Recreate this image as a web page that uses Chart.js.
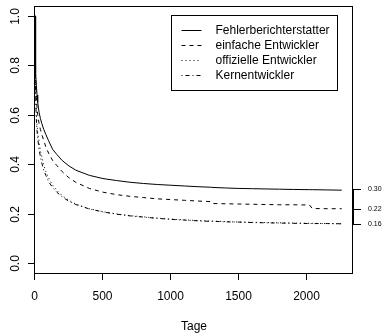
<!DOCTYPE html>
<html>
<head>
<meta charset="utf-8">
<script src="https://cdn.jsdelivr.net/npm/chart.js@4.4.0/dist/chart.umd.min.js"></script>
<style>
  body { margin: 0; background: #fff; }
  canvas { display: block; }
</style>
</head>
<body>
<canvas id="survChart" width="389" height="333"></canvas>
<script>
// Tage (gemeinsames Raster fuer alle Kurven)
const tage = [0, 3, 6, 10, 15, 20, 30, 40, 50, 65, 80, 100, 130, 160, 200, 250, 300, 400, 500, 600,
              700, 800, 900, 1000, 1100, 1200, 1290, 1310, 1400, 1500, 1600, 1700, 1800, 1900, 2020, 2040, 2150, 2257];

const fehlerberichterstatter = [1.0, 0.84, 0.77, 0.72, 0.68, 0.65, 0.61, 0.585, 0.565, 0.54, 0.52, 0.495, 0.46, 0.44, 0.415, 0.393, 0.376, 0.355, 0.342, 0.334,
              0.327, 0.322, 0.318, 0.315, 0.312, 0.309, 0.307, 0.306, 0.304, 0.302, 0.301, 0.300, 0.299, 0.298, 0.297, 0.297, 0.296, 0.295];
const einfacheEntwickler = [1.0, 0.80, 0.72, 0.67, 0.63, 0.60, 0.565, 0.54, 0.52, 0.495, 0.47, 0.445, 0.415, 0.395, 0.37, 0.345, 0.327, 0.302, 0.287, 0.277,
              0.270, 0.265, 0.260, 0.257, 0.254, 0.251, 0.249, 0.241, 0.240, 0.239, 0.238, 0.237, 0.236, 0.236, 0.235, 0.221, 0.220, 0.220];
const offizielleEntwickler = [1.0, 0.74, 0.66, 0.60, 0.56, 0.53, 0.49, 0.455, 0.43, 0.395, 0.37, 0.345, 0.315, 0.295, 0.273, 0.254, 0.239, 0.220, 0.208, 0.199,
              0.192, 0.187, 0.182, 0.178, 0.175, 0.172, 0.170, 0.170, 0.168, 0.166, 0.165, 0.164, 0.163, 0.162, 0.161, 0.161, 0.160, 0.159];
const kernentwickler = [1.0, 0.75, 0.65, 0.58, 0.535, 0.505, 0.46, 0.43, 0.405, 0.375, 0.355, 0.33, 0.305, 0.287, 0.268, 0.25, 0.237, 0.219, 0.207, 0.198,
              0.191, 0.186, 0.181, 0.177, 0.174, 0.171, 0.169, 0.169, 0.167, 0.166, 0.164, 0.163, 0.162, 0.161, 0.160, 0.160, 0.160, 0.159];

// Achsenbeschriftungen
const xTicks = [0, 500, 1000, 1500, 2000];
const yTicks = [0.0, 0.2, 0.4, 0.6, 0.8, 1.0];
const endTicks = [0.30, 0.22, 0.16];

const legendLabels = ['Fehlerberichterstatter', 'einfache Entwickler', 'offizielle Entwickler', 'Kernentwickler'];
const dashes = [[], [4, 4], [1, 3], [1, 3, 4, 3]];

function toPoints(values) {
    return values.map((v, i) => ({ x: tage[i], y: v }));
}

const FONT = '12px "Liberation Sans", Arial, sans-serif';

// Zeichnet Rahmen, Achsen, Legende wie in R
const rStylePlugin = {
    id: 'rStyle',
    afterDatasetsDraw(chart) {
        const c = chart.ctx;
        const a = chart.chartArea;
        const xs = chart.scales.x;
        const ys = chart.scales.y;
        c.save();
        c.strokeStyle = '#000';
        c.fillStyle = '#000';
        c.lineWidth = 1;
        c.setLineDash([]);

        // Rahmen
        c.strokeRect(a.left - 0.5, a.top + 0.5, a.right - a.left, a.bottom - a.top);

        // x-Achse
        c.font = FONT;
        c.textAlign = 'center';
        c.textBaseline = 'alphabetic';
        xTicks.forEach(t => {
            const px = Math.round(xs.getPixelForValue(t)) - 0.5;
            c.beginPath();
            c.moveTo(px, a.bottom);
            c.lineTo(px, a.bottom + 7);
            c.stroke();
            c.fillText(String(t), px, 300);
        });
        c.fillText('Tage', (a.left + a.right) / 2, 330);

        // y-Achse (Beschriftung gedreht)
        yTicks.forEach(t => {
            const py = Math.round(ys.getPixelForValue(t)) + 0.5;
            c.beginPath();
            c.moveTo(a.left, py);
            c.lineTo(a.left - 7, py);
            c.stroke();
            c.save();
            c.translate(18.5, py);
            c.rotate(-Math.PI / 2);
            c.textAlign = 'center';
            c.textBaseline = 'alphabetic';
            c.fillText(t.toFixed(1), 0, 0);
            c.restore();
        });

        // Endwerte rechts
        c.font = '7px "Liberation Sans", Arial, sans-serif';
        c.textAlign = 'left';
        c.textBaseline = 'middle';
        const top = Math.round(ys.getPixelForValue(endTicks[0])) + 0.5;
        const bot = Math.round(ys.getPixelForValue(endTicks[endTicks.length - 1])) + 0.5;
        c.beginPath();
        c.moveTo(a.right + 0.5, top);
        c.lineTo(a.right + 0.5, bot);
        c.stroke();
        endTicks.forEach(t => {
            const py = Math.round(ys.getPixelForValue(t)) + 0.5;
            c.beginPath();
            c.moveTo(a.right, py);
            c.lineTo(a.right + 8, py);
            c.stroke();
            c.fillText(t.toFixed(2), 368, py);
        });

        // Legende
        c.strokeRect(171.5, 15.5, 166, 75);
        c.font = FONT;
        c.textBaseline = 'middle';
        legendLabels.forEach((lab, i) => {
            const py = 30.5 + i * 15;
            c.setLineDash(dashes[i]);
            c.beginPath();
            c.moveTo(181.5, py);
            c.lineTo(201.5, py);
            c.stroke();
            c.setLineDash([]);
            c.fillText(lab, 215.5, py + 0.5);
        });
        c.restore();
    }
};

const seriesValues = [fehlerberichterstatter, einfacheEntwickler, offizielleEntwickler, kernentwickler];

const chart = new Chart(document.getElementById('survChart').getContext('2d'), {
    type: 'line',
    data: {
        datasets: seriesValues.map((vals, i) => ({
            label: legendLabels[i],
            data: toPoints(vals),
            borderColor: '#000',
            borderWidth: 1,
            borderDash: dashes[i],
            pointRadius: 0,
            tension: 0,
            fill: false
        }))
    },
    options: {
        responsive: false,
        animation: false,
        layout: { padding: { left: 35, right: 36, top: 6, bottom: 60 } },
        scales: {
            x: { type: 'linear', min: 0, max: 2340, display: false },
            y: { type: 'linear', min: -0.04, max: 1.04, display: false }
        },
        plugins: {
            legend: { display: false },
            tooltip: { enabled: false }
        }
    },
    plugins: [rStylePlugin]
});
</script>
</body>
</html>
